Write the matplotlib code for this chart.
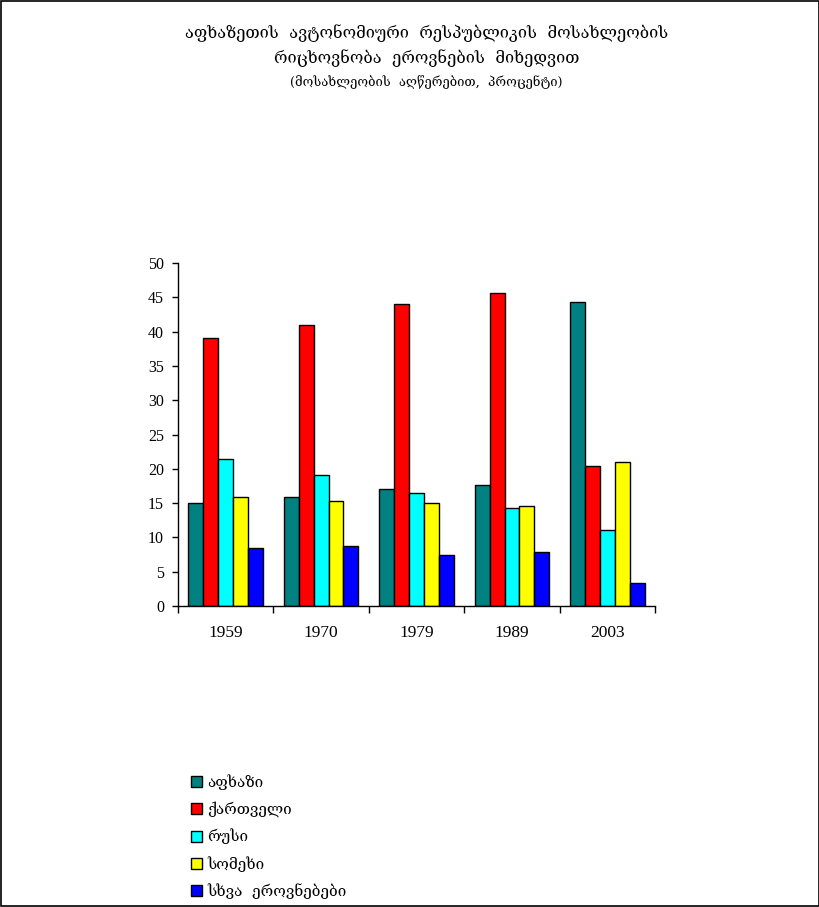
import matplotlib
matplotlib.use("Agg")
import matplotlib.pyplot as plt
import numpy as np
from matplotlib.patches import Rectangle

years = ["1959", "1970", "1979", "1989", "2003"]
series_names = ["აფხაზი", "ქართველი", "რუსი", "სომეხი", "სხვა  ეროვნებები"]
abkhaz = [15.0, 15.9, 17.1, 17.7, 44.3]
georgian = [39.1, 41.0, 44.0, 45.7, 20.4]
russian = [21.5, 19.1, 16.5, 14.3, 11.1]
armenian = [15.9, 15.3, 15.0, 14.6, 21.0]
other = [8.5, 8.8, 7.5, 7.8, 3.4]
colors = ["#008080", "#FF0000", "#00FFFF", "#FFFF00", "#0000FF"]

title1 = "აფხაზეთის  ავტონომიური  რესპუბლიკის  მოსახლეობის"
title2 = "რიცხოვნობა  ეროვნების  მიხედვით"
title3 = "(მოსახლეობის  აღწერებით,  პროცენტი)"

geo_font = ["DejaVu Serif", "DejaVu Sans"]
num_font = ["Liberation Serif", "DejaVu Serif"]

fig = plt.figure(figsize=(8.2, 9.07), dpi=100)
fig.patch.set_facecolor("white")
fig.add_artist(Rectangle((0.0012, 0.0011), 0.9976, 0.9978, transform=fig.transFigure,
                         fill=False, edgecolor="black", linewidth=1.2))

ax = fig.add_axes([0.217, 0.3319, 0.582, 0.378])
data = [abkhaz, georgian, russian, armenian, other]
x = np.arange(len(years))
bw = 0.156
handles = []
for i, (vals, c) in enumerate(zip(data, colors)):
    h = ax.bar(x + (i - 2) * bw, vals, width=bw, color=c, edgecolor="black", linewidth=1.0)
    handles.append(h)

ax.set_xlim(-0.5, 4.5)
ax.set_ylim(0, 50)
ax.set_yticks(np.arange(0, 51, 5))
ax.set_xticks(np.arange(-0.5, 4.6, 1.0))
ax.set_xticklabels([])
ax.set_xticks(x, minor=True)
ax.set_xticklabels(years, minor=True, fontfamily=num_font, fontsize=12.5)
ax.tick_params(axis="x", which="minor", length=0, pad=14)
ax.tick_params(axis="x", which="major", direction="out", length=5, width=1)
ax.tick_params(axis="y", direction="out", length=4, width=1, pad=6)
for lab in ax.get_yticklabels():
    lab.set_fontfamily(num_font)
    lab.set_fontsize(11.5)
for s in ["top", "right"]:
    ax.spines[s].set_visible(False)
for s in ["left", "bottom"]:
    ax.spines[s].set_linewidth(1.0)

fig.text(0.52, 0.963, title1, ha="center", va="center", fontsize=11.8, family=geo_font)
fig.text(0.52, 0.936, title2, ha="center", va="center", fontsize=11.8, family=geo_font)
fig.text(0.52, 0.910, title3, ha="center", va="center", fontsize=9.4, family=geo_font)

leg = fig.legend(handles, series_names, loc="upper left", bbox_to_anchor=(0.225, 0.153),
                 frameon=False, prop={"family": geo_font, "size": 11},
                 handlelength=0.72, handleheight=0.72, handletextpad=0.35,
                 labelspacing=0.75, borderaxespad=0)

fig.savefig("out.png", dpi=100, facecolor="white")
